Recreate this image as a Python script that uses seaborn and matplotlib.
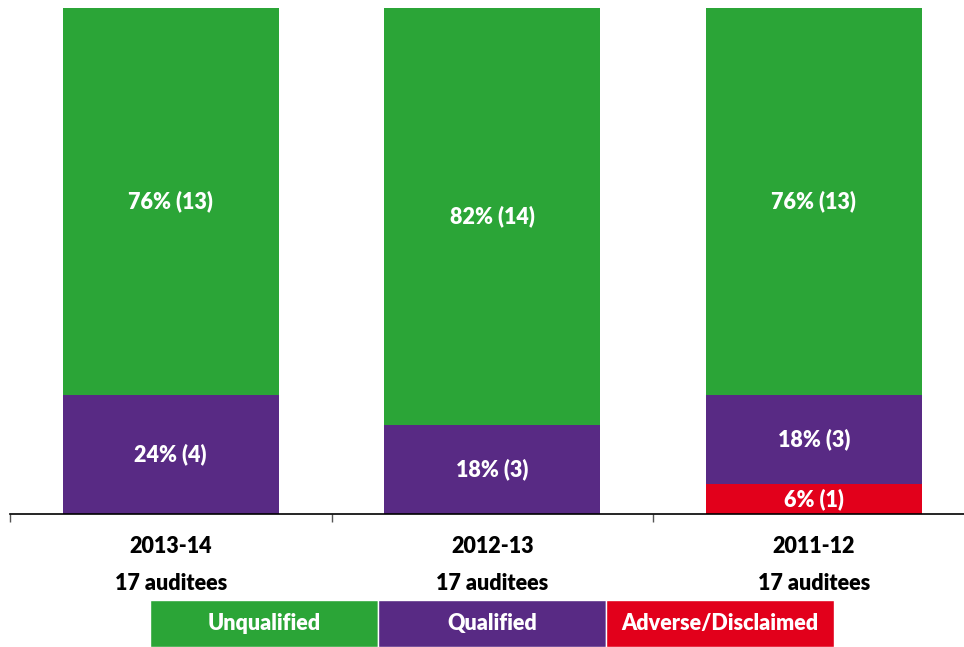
import matplotlib
matplotlib.use("Agg")
import matplotlib.pyplot as plt
import seaborn as sns
import numpy as np
from matplotlib.patches import Rectangle

# Audit outcomes per year (counts of auditees)
years = ["2013-14", "2012-13", "2011-12"]
auditees = [17, 17, 17]
unqualified = [13, 14, 13]
qualified = [4, 3, 3]
adverse = [0, 0, 1]

labels = ["Unqualified", "Qualified", "Adverse/Disclaimed"]
colors = ["#2BA537", "#582A84", "#E2001B"]

sns.set_theme(style="white")
plt.rcParams["font.family"] = ["Lato", "DejaVu Sans"]
plt.rcParams["font.weight"] = "heavy"

total = np.array(auditees, dtype=float)
pct_unq = np.array(unqualified) / total * 100
pct_q = np.array(qualified) / total * 100
pct_adv = np.array(adverse) / total * 100

fig = plt.figure(figsize=(9.64, 6.47), dpi=100)
ax = fig.add_axes([10 / 964, 133 / 647, 964.5 / 964, 506 / 647])

# draw cumulative bars back to front so they stack
for h, c in [(pct_unq + pct_q + pct_adv, colors[0]),
             (pct_q + pct_adv, colors[1]),
             (pct_adv, colors[2])]:
    sns.barplot(x=years, y=h, color=c, width=0.672, saturation=1,
                linewidth=0, ax=ax)

# segment labels
for i in range(len(years)):
    segs = [(adverse[i], pct_adv[i], 0),
            (qualified[i], pct_q[i], pct_adv[i]),
            (unqualified[i], pct_unq[i], pct_adv[i] + pct_q[i])]
    for n, p, b in segs:
        if n > 0:
            ax.text(i, b + p / 2, f"{p:.0f}% ({n})", ha="center", va="center",
                    color="white", fontsize=15.5, fontweight="heavy")

ax.set_xlim(-0.5, 2.5)
ax.set_ylim(0, 100)
ax.set_yticks([])
ax.set_ylabel("")
ax.set_xticks(range(len(years)))
ax.set_xticklabels([f"{y}\n{n} auditees" for y, n in zip(years, auditees)],
                   fontsize=15.5, fontweight="heavy", linespacing=1.95)
ax.set_xticks([-0.5, 0.5, 1.5, 2.5], minor=True)
ax.tick_params(axis="x", which="major", length=0, pad=16, colors="black")
ax.tick_params(axis="x", which="minor", length=6, width=1, color="#555555",
               direction="out", bottom=True)
for s in ["top", "left", "right"]:
    ax.spines[s].set_visible(False)
ax.spines["bottom"].set_color("black")
ax.spines["bottom"].set_linewidth(1.2)

# legend as coloured boxes with text inside
lax = fig.add_axes([150 / 964, 0, 684 / 964, 47 / 647])
for i, (lab, c) in enumerate(zip(labels, colors)):
    lax.add_patch(Rectangle((i, 0), 1, 1, facecolor=c, edgecolor="white", linewidth=1))
    lax.text(i + 0.5, 0.5, lab, ha="center", va="center", color="white",
             fontsize=15.5, fontweight="heavy")
lax.set_xlim(0, 3)
lax.set_ylim(0, 1)
lax.axis("off")

fig.savefig("out.png", dpi=100)
